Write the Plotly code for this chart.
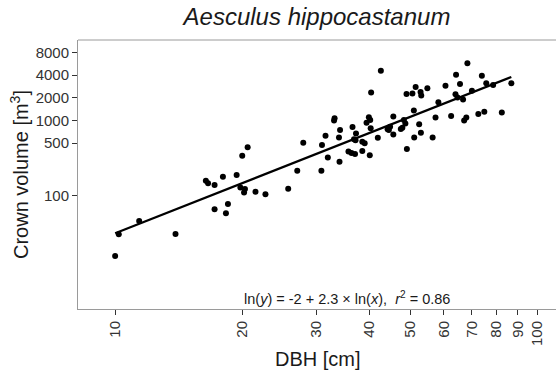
import plotly.graph_objects as go

# DBH [cm] and crown volume [m^3]
dbh = [10.0, 10.2, 11.4, 13.9, 16.4, 16.6, 17.2, 18.0, 19.4, 20.0,
       20.6, 19.8, 20.3, 20.2, 21.5, 22.7, 17.2, 18.5, 18.3, 25.7,
       27.0, 27.9, 30.8, 30.9, 31.5, 31.9, 34.0, 33.0, 33.1, 34.1,
       33.9, 36.5, 37.2, 36.8, 37.1, 35.7, 36.3, 37.0, 38.5, 39.0,
       38.5, 40.1, 42.6, 40.4, 39.9, 40.2, 39.4, 40.3, 41.9, 44.2,
       44.8, 44.5, 45.6, 45.6, 48.3, 48.7, 47.9, 47.5, 49.1, 51.1,
       51.0, 49.0, 50.6, 51.5, 52.9, 53.1, 52.5, 53.0, 56.5, 54.9,
       57.4, 58.3, 60.6, 62.5, 64.2, 64.0, 64.7, 66.7, 65.6, 67.1,
       67.9, 68.3, 70.0, 72.5, 74.9, 73.9, 75.7, 78.6, 82.4, 86.8]
crown_volume = [15.8, 30.7, 46.2, 31.0, 158, 146, 139, 179, 188, 340,
                440, 129, 123, 110, 113, 105, 66, 77.6, 58.4, 124,
                215, 506, 215, 472, 625, 322, 283, 998, 1067, 746,
                593, 818, 668, 561, 545, 387, 369, 358, 522, 497,
                393, 345, 4575, 2349, 1100, 1013, 933, 786, 591, 762,
                825, 746, 650, 1127, 1013, 910, 798, 769, 417, 593,
                1354, 2243, 2278, 2779, 2385, 2143, 888, 687, 593, 2671,
                1094, 1741, 2883, 1145, 4036, 2223, 2016, 1896, 3046, 998,
                1094, 5737, 2474, 1217, 1306, 3914, 3112, 2955, 1274, 3112]

# fitted line end points
fit_x = [10, 86.8]
fit_y = [31.7, 3780]

x_ticks = [10, 20, 30, 40, 50, 60, 70, 80, 90, 100]
y_ticks = [100, 500, 1000, 2000, 4000, 8000]

title_text = "Aesculus hippocastanum"
x_title = "DBH [cm]"
y_title = "Crown volume [m<sup>3</sup>]"
eq_text = "ln(<i>y</i>) = -2 + 2.3 × ln(<i>x</i>),  <i>r</i><sup>2</sup> = 0.86"

FONT = "Liberation Sans, Arial, sans-serif"

fig = go.Figure()
fig.add_trace(go.Scatter(x=dbh, y=crown_volume, mode="markers",
                         marker=dict(color="black", size=6),
                         showlegend=False, hoverinfo="skip"))
fig.add_trace(go.Scatter(x=fit_x, y=fit_y, mode="lines",
                         line=dict(color="black", width=2.2),
                         showlegend=False, hoverinfo="skip"))

W, H = 556, 378
L, R, T, B = 78, 0, 40, 69
pw, ph = W - L - R, H - T - B

fig.update_layout(
    width=W, height=H,
    margin=dict(l=L, r=R, t=T, b=B),
    paper_bgcolor="white", plot_bgcolor="white",
    font=dict(family=FONT, color="#333333"),
    title=dict(text="<i>%s</i>" % title_text, x=(L + pw / 2) / W, xanchor="center",
               y=1 - 17 / H, yanchor="middle",
               font=dict(size=24, color="#1a1a1a", family=FONT)),
    xaxis=dict(type="log", range=[0.912, 2.0443],
               tickvals=x_ticks, ticktext=[str(v) for v in x_ticks],
               tickangle=-90, ticks="outside", ticklen=5, tickwidth=1,
               tickcolor="#333333", showline=True, linecolor="#9a9a9a",
               linewidth=1, showgrid=False, zeroline=False,
               tickfont=dict(size=15, color="#333333", family=FONT)),
    yaxis=dict(type="log", range=[0.496, 4.068],
               tickvals=y_ticks, ticktext=[str(v) for v in y_ticks],
               ticks="outside", ticklen=5, tickwidth=1,
               tickcolor="#333333", showline=True, linecolor="#9a9a9a",
               linewidth=1, showgrid=False, zeroline=False,
               tickfont=dict(size=15, color="#333333", family=FONT)),
    shapes=[dict(type="line", xref="paper", yref="paper", x0=0, x1=1, y0=1, y1=1,
                 line=dict(color="#9a9a9a", width=1))],
    annotations=[
        dict(text=eq_text, xref="paper", yref="paper",
             x=(346.7 - L) / pw, y=(309 - 298) / ph, xanchor="center", yanchor="middle",
             showarrow=False, font=dict(size=14.5, color="#1a1a1a", family=FONT)),
        dict(text=x_title, xref="paper", yref="paper",
             x=(318 - L) / pw, y=(309 - 359) / ph, xanchor="center", yanchor="middle",
             showarrow=False, font=dict(size=20, color="#1a1a1a", family=FONT)),
        dict(text=y_title, xref="paper", yref="paper", textangle=-90,
             x=(19 - L) / pw, y=(309 - 175) / ph, xanchor="center", yanchor="middle",
             showarrow=False, font=dict(size=20, color="#1a1a1a", family=FONT)),
    ],
)

fig.write_html("out.html")
